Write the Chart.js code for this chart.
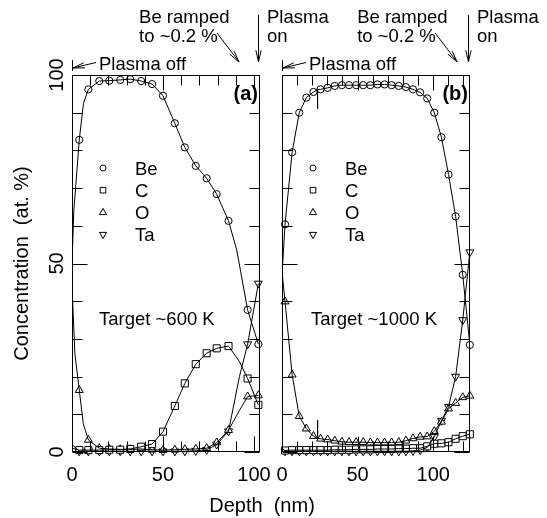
<!DOCTYPE html>
<html>
<head>
<meta charset="utf-8">
<script src="https://cdn.jsdelivr.net/npm/chart.js@4.4.1/dist/chart.umd.min.js"></script>
<style>
html, body { margin: 0; padding: 0; background: #fff; }
#marco { position: relative; width: 547px; height: 518px; }
#marco canvas { position: absolute; left: 0; top: 0; }
</style>
</head>
<body>
<div id="marco">
  <canvas id="graficoA" width="547" height="518"></canvas>
  <canvas id="graficoB" width="547" height="518"></canvas>
</div>
<script>
// Panel (a): target ~600 K
const depthA = [4, 9, 15, 20.5, 26.5, 32, 38, 44, 50, 56.5, 62, 68, 74, 79.5, 86, 96.5, 102.4];
const beA = [82.8, 96.2, 98.4, 98.5, 98.7, 98.9, 98.4, 97.6, 94.5, 87.2, 80.8, 75.9, 72.6, 68.4, 61.3, 37.7, 28.6];
const cA  = [0.5, 0.5, 0.5, 0.6, 0.6, 0.8, 1.4, 2.1, 5.4, 12.2, 18.2, 23.3, 26.2, 27.5, 28.1, 19.5, 12.5];
const oA  = [16.4, 3.2, 1.0, 0.8, 0.7, 0.7, 0.8, 0.6, 0.5, 0.6, 0.7, 0.8, 1.0, 2.5, 5.8, 14.7, 15.0];
const taA = [0.2, 0.2, 0.2, 0.2, 0.2, 0.2, 0.2, 0.2, 0.2, 0.2, 0.2, 0.3, 0.6, 2.0, 5.5, 28.6, 44.7];
// puntos de la linea sin marcador [profundidad, valor]
const beAExtra = [[0, 50], [1, 64], [6.3, 92.5], [90.5, 53.6]];
const cAExtra  = [[0, 1], [92, 24]];
const oAExtra  = [[0, 44], [1.6, 26], [6.2, 7.5], [92, 11]];
const taAExtra = [[0, 2], [92, 20]];

// Panel (b): target ~1000 K
const depthB = [2, 6.7, 11.4, 16.1, 20.8, 25.5, 30.2, 34.9, 39.6, 44.3, 49, 53.7, 58.4, 63.1, 67.8, 72.5, 77.2, 81.9, 86.6, 91.3, 96, 100.7, 105.4, 110.1, 114.8, 119.5, 124.2];
const beB = [60.4, 79.5, 90, 94, 95.5, 96.2, 96.6, 97.1, 97.3, 97.3, 97.3, 97.3, 97.3, 97.5, 97.5, 97.3, 97.1, 96.8, 96.2, 95.4, 93.8, 90, 83.5, 73.6, 62.5, 47, 28.4];
const cB  = [0.4, 0.5, 0.5, 0.5, 0.5, 0.5, 0.5, 0.6, 0.6, 0.6, 0.7, 0.7, 0.7, 0.8, 0.8, 0.8, 0.9, 0.9, 1.0, 1.0, 1.5, 2.2, 2.3, 2.6, 3.5, 4.2, 4.7];
const oB  = [39.9, 20.5, 9.5, 6.2, 4.2, 3.5, 3.3, 3.0, 2.7, 2.6, 2.6, 2.6, 2.5, 2.5, 2.5, 2.5, 2.6, 3.0, 3.6, 4.0, 4.1, 5.5, 8, 11.5, 13, 14.5, 14.9];
const taB = [0.2, 0.2, 0.2, 0.2, 0.2, 0.2, 0.2, 0.2, 0.2, 0.2, 0.2, 0.2, 0.2, 0.2, 0.2, 0.2, 0.2, 0.2, 0.3, 0.5, 1.2, 4, 8.3, 12, 20, 35, 53];
const beBExtra = [[0, 47], [23.4, 96.1], [23.5, 91], [23.6, 96.1]];
const cBExtra  = [[0, 1]];
const oBExtra  = [[0, 48], [23.4, 3.6], [23.5, 8.5], [23.6, 3.6]];
const taBExtra = [[0, 1]];

const especies = ['Be', 'C', 'O', 'Ta'];
const yTicks = [0, 50, 100];

const fuente = "'Liberation Sans', Arial, sans-serif";
const estilos = {
    Be: { pointStyle: 'circle', radius: 3.6, rotation: 0 },
    C:  { pointStyle: 'rect', radius: 5, rotation: 0 },
    O:  { pointStyle: 'triangle', radius: 4.6, rotation: 0 },
    Ta: { pointStyle: 'triangle', radius: 4.6, rotation: 180 }
};

function linea(depth, vals, extra) {
    return depth.map((d, i) => ({ x: d, y: vals[i] }))
        .concat(extra.map(p => ({ x: p[0], y: p[1] })))
        .sort((a, b) => a.x - b.x);
}

function puntos(depth, vals) {
    return depth.map((d, i) => ({ x: d, y: vals[i] }));
}

function armarDatasets(depth, series, extras) {
    const lineas = especies.map((e, i) => ({
        label: e + ' linea',
        data: linea(depth, series[i], extras[i]),
        showLine: true,
        borderColor: '#000',
        borderWidth: 1,
        pointRadius: 0,
        pointHoverRadius: 0,
        tension: 0
    }));
    const marcas = especies.map((e, i) => ({
        label: e,
        data: puntos(depth, series[i]),
        showLine: false,
        pointStyle: estilos[e].pointStyle,
        pointRadius: estilos[e].radius,
        pointRotation: estilos[e].rotation,
        pointBackgroundColor: '#fff',
        pointBorderColor: '#000',
        pointBorderWidth: 1,
        clip: false
    }));
    return lineas.concat(marcas);
}

// marcador pequeño para la leyenda
function marca(ctx, e, x, y) {
    ctx.beginPath();
    if (e === 'Be') {
        ctx.arc(x, y, 3, 0, Math.PI * 2);
    } else if (e === 'C') {
        ctx.rect(x - 2.8, y - 2.8, 5.6, 5.6);
    } else if (e === 'O') {
        ctx.moveTo(x, y - 4); ctx.lineTo(x + 3.5, y + 2.2); ctx.lineTo(x - 3.5, y + 2.2); ctx.closePath();
    } else {
        ctx.moveTo(x, y + 4); ctx.lineTo(x + 3.5, y - 2.2); ctx.lineTo(x - 3.5, y - 2.2); ctx.closePath();
    }
    ctx.fillStyle = '#fff';
    ctx.fill();
    ctx.stroke();
}

function flecha(ctx, x1, y1, x2, y2) {
    const ang = Math.atan2(y2 - y1, x2 - x1);
    const L = 12, abre = 0.22;
    ctx.beginPath();
    ctx.moveTo(x1, y1); ctx.lineTo(x2, y2);
    ctx.moveTo(x2 - L * Math.cos(ang - abre), y2 - L * Math.sin(ang - abre));
    ctx.lineTo(x2, y2);
    ctx.lineTo(x2 - L * Math.cos(ang + abre), y2 - L * Math.sin(ang + abre));
    ctx.stroke();
}

// marco, ticks hacia adentro, leyenda y anotaciones
const panelPlugin = {
    id: 'panel',
    afterDraw(chart, args, opts) {
        const { ctx, chartArea: a, scales } = chart;
        const L = Math.round(a.left) + 0.5, R = Math.round(a.right) - 0.5;
        const T = Math.round(a.top) + 0.5, B = Math.round(a.bottom) - 0.5;
        ctx.save();
        ctx.strokeStyle = '#000';
        ctx.lineWidth = 1;
        ctx.strokeRect(L, T, R - L, B - T);

        ctx.beginPath();
        scales.x.ticks.forEach(t => {
            const px = Math.round(scales.x.getPixelForValue(t.value)) + 0.5;
            const len = t.value % 50 === 0 ? 15 : 10;
            ctx.moveTo(px, B); ctx.lineTo(px, B - len);
            ctx.moveTo(px, T); ctx.lineTo(px, T + len);
        });
        scales.y.ticks.forEach(t => {
            const py = Math.round(scales.y.getPixelForValue(t.value)) + 0.5;
            const len = t.value % 50 === 0 ? 15 : 10;
            ctx.moveTo(L, py); ctx.lineTo(L + len, py);
            ctx.moveTo(R, py); ctx.lineTo(R - len, py);
        });
        ctx.stroke();

        ctx.fillStyle = '#000';
        // etiquetas del eje y (solo panel a)
        if (opts.etiquetasY) {
            ctx.font = '20px ' + fuente;
            ctx.textAlign = 'center';
            ctx.textBaseline = 'alphabetic';
            yTicks.forEach(v => {
                const py = scales.y.getPixelForValue(v);
                ctx.save();
                ctx.translate(a.left - 9, py);
                ctx.rotate(-Math.PI / 2);
                ctx.fillText(String(v), 0, 0);
                ctx.restore();
            });
        }

        // leyenda
        ctx.font = '18.5px ' + fuente;
        ctx.textAlign = 'left';
        ctx.textBaseline = 'alphabetic';
        especies.forEach((e, i) => {
            const yb = 174.5 + i * 22.2;
            marca(ctx, e, a.left + 31, yb - 6.5);
            ctx.fillStyle = '#000';
            ctx.fillText(e, a.left + 63, yb);
        });

        // temperatura
        ctx.fillText(opts.target, a.left + opts.targetDx, 325);

        // etiqueta (a)/(b)
        ctx.font = 'bold 20px ' + fuente;
        ctx.textAlign = 'right';
        ctx.fillText(opts.letra, a.right - 2, 100);

        // anotaciones superiores
        ctx.font = '18.5px ' + fuente;
        ctx.textAlign = 'left';
        ctx.fillText('Plasma off', a.left + 27, 69.5);
        ctx.beginPath();
        ctx.moveTo(L, 60); ctx.lineTo(L, 71);
        ctx.stroke();
        flecha(ctx, a.left + 24, 62.5, a.left + 1, 68);

        const xr = scales.x.getPixelForValue(opts.rampa);
        ctx.fillText('Be ramped', xr - 100, 23);
        ctx.fillText('to ~0.2 %', xr - 100, 42);
        flecha(ctx, xr - 22, 33, xr, 62);

        const xo = Math.round(a.right) - 1.5;
        flecha(ctx, xo, 15, xo, 62);
        ctx.fillText('Plasma', a.right + 7, 23);
        ctx.fillText('on', a.right + 7, 42);

        // titulo del eje x comun
        if (opts.tituloX) {
            ctx.font = '20px ' + fuente;
            ctx.textAlign = 'center';
            ctx.fillText('Depth  (nm)', 262, 512);
        }
        ctx.restore();
    }
};

function escalas(maxX, anchoY, tituloY) {
    return {
        x: {
            type: 'linear',
            min: 0,
            max: maxX,
            ticks: {
                stepSize: 10,
                includeBounds: false,
                autoSkip: false,
                maxRotation: 0,
                padding: 11,
                color: '#000',
                font: { family: fuente, size: 20 },
                callback: v => (v % 50 === 0 ? v : '')
            },
            grid: { display: false, drawTicks: false },
            border: { display: false },
            afterFit: s => { s.height = 66; }
        },
        y: {
            type: 'linear',
            min: 0,
            max: 100,
            ticks: { stepSize: 10, display: false },
            grid: { display: false, drawTicks: false },
            border: { display: false },
            title: {
                display: tituloY,
                text: 'Concentration  (at. %)',
                color: '#000',
                font: { family: fuente, size: 20 },
                padding: { top: 10, bottom: 0 }
            },
            afterFit: s => { s.width = anchoY; }
        }
    };
}

// Grafico panel (a)
const ctxA = document.getElementById('graficoA').getContext('2d');
new Chart(ctxA, {
    type: 'scatter',
    data: { datasets: armarDatasets(depthA, [beA, cA, oA, taA], [beAExtra, cAExtra, oAExtra, taAExtra]) },
    options: {
        responsive: false,
        animation: false,
        layout: { padding: { left: 0, right: 287, top: 75, bottom: 0 } },
        plugins: {
            legend: { display: false },
            tooltip: { enabled: false },
            panel: { etiquetasY: true, tituloX: true, letra: '(a)', target: 'Target ~600 K', targetDx: 27, rampa: 91.8 }
        },
        scales: escalas(103.3, 72, true)
    },
    plugins: [panelPlugin]
});

// Grafico panel (b)
const ctxB = document.getElementById('graficoB').getContext('2d');
new Chart(ctxB, {
    type: 'scatter',
    data: { datasets: armarDatasets(depthB, [beB, cB, oB, taB], [beBExtra, cBExtra, oBExtra, taBExtra]) },
    options: {
        responsive: false,
        animation: false,
        layout: { padding: { left: 282, right: 77, top: 75, bottom: 0 } },
        plugins: {
            legend: { display: false },
            tooltip: { enabled: false },
            panel: { etiquetasY: false, tituloX: false, letra: '(b)', target: 'Target ~1000 K', targetDx: 29, rampa: 115.8 }
        },
        scales: escalas(124.3, 0, false)
    },
    plugins: [panelPlugin]
});
</script>
</body>
</html>
